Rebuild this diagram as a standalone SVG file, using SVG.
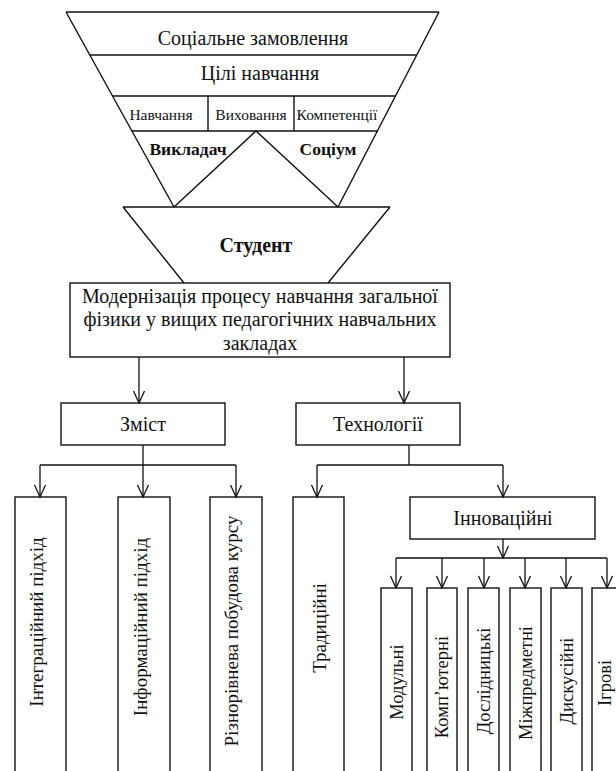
<svg xmlns="http://www.w3.org/2000/svg" width="616" height="771" viewBox="0 0 616 771">
<defs>
<marker id="arr" markerUnits="userSpaceOnUse" markerWidth="20" markerHeight="20" refX="0" refY="0" orient="auto" overflow="visible">
<path d="M-12,-5.5 L0,0 L-12,5.5" fill="none" stroke="#111" stroke-width="1.3"/>
</marker>
</defs>
<style>
text{font-family:"Liberation Serif","Times New Roman",serif;fill:#111;text-anchor:middle}
.t20{font-size:20px}
.v19{font-size:19px}
.v18{font-size:18.5px}
.t15{font-size:15.5px}
.b{font-weight:bold}
.ln{stroke:#111;stroke-width:1.4;fill:none}
.box{stroke:#111;stroke-width:1.4;fill:#fff}
.con{stroke:#111;stroke-width:1.3;fill:none}
.arw{stroke:#111;stroke-width:1.3;fill:none;marker-end:url(#arr)}
</style>
<rect width="616" height="771" fill="#fff"/>

<g id="funnel">
<path class="ln" d="M66,12 L174,207 M439,12 L338,207" stroke-width="1.5"/>
<path class="ln" d="M66,12 L439,12" stroke-width="2"/>
<path class="ln" d="M90,55 L417,55 M112,96 L396,96 M131,131 L378,131 M208,96 L208,131 M294,96 L294,131"/>
</g>
<g id="node-social"><text class="t20" x="253" y="45">Соціальне замовлення</text></g>
<g id="node-goals"><text class="t20" x="260" y="80">Цілі навчання</text></g>
<g id="node-learning"><text class="t15" x="161" y="120">Навчання</text></g>
<g id="node-upbringing"><text class="t15" x="251" y="120">Виховання</text></g>
<g id="node-competences"><text class="t15" x="337" y="120">Компетенції</text></g>
<g id="node-teacher-society">
<path class="ln" d="M174,207 L256,131 L338,207" stroke-width="1.5"/>
</g>
<g id="node-teacher"><text class="b" style="font-size:17.5px" x="188" y="155">Викладач</text></g>
<g id="node-society"><text class="b" style="font-size:17.5px" x="328" y="155">Соціум</text></g>
<g id="node-student">
<path class="ln" d="M123,207 L390,207" stroke-width="2"/>
<path class="ln" d="M123,207 L184,283 M390,207 L328,283" stroke-width="1.5"/>
<text class="t20 b" x="256" y="252">Студент</text>
</g>

<g id="node-modern">
<rect class="box" x="70" y="283" width="380" height="74"/>
<text class="t20" x="260" y="303">Модернізація процесу навчання загальної</text>
<text class="t20" x="260" y="326">фізики у вищих педагогічних навчальних</text>
<text class="t20" x="260" y="350">закладах</text>
</g>

<g id="node-content">
<rect class="box" x="61" y="403" width="164" height="42"/>
<text class="t20" x="143" y="431">Зміст</text>
</g>
<g id="node-tech">
<rect class="box" x="296" y="403" width="164" height="42"/>
<text class="t20" x="378" y="431">Технології</text>
</g>

<g id="node-integr">
<rect class="box" x="15" y="497" width="51" height="300"/>
<text class="v19" transform="translate(43,622) rotate(-90)">Інтеграційний підхід</text>
</g>
<g id="node-inform">
<rect class="box" x="118" y="497" width="52" height="300"/>
<text class="v19" transform="translate(147,627) rotate(-90)">Інформаційний підхід</text>
</g>
<g id="node-multilevel">
<rect class="box" x="210" y="497" width="52" height="300"/>
<text class="v19" transform="translate(238,631) rotate(-90)">Різнорівнева побудова курсу</text>
</g>
<g id="node-traditional">
<rect class="box" x="293" y="497" width="51" height="300"/>
<text class="v19" transform="translate(326,628) rotate(-90)">Традиційні</text>
</g>
<g id="node-innov">
<rect class="box" x="410" y="497" width="185" height="42"/>
<text class="t20" x="503" y="525">Інноваційні</text>
</g>

<g id="node-modular">
<rect class="box" x="381" y="588" width="31" height="220"/>
<text class="v18" transform="translate(403,682) rotate(-90)">Модульні</text>
</g>
<g id="node-computer">
<rect class="box" x="427" y="588" width="30" height="220"/>
<text class="v18" transform="translate(448,687) rotate(-90)">Комп’ютерні</text>
</g>
<g id="node-research">
<rect class="box" x="468" y="588" width="31" height="220"/>
<text class="v18" transform="translate(490,681) rotate(-90)">Дослідницькі</text>
</g>
<g id="node-interdisc">
<rect class="box" x="510" y="588" width="31" height="220"/>
<text class="v18" transform="translate(532,683) rotate(-90)">Міжпредметні</text>
</g>
<g id="node-discussion">
<rect class="box" x="551" y="588" width="31" height="220"/>
<text class="v18" transform="translate(573,681) rotate(-90)">Дискусійні</text>
</g>
<g id="node-games">
<rect class="box" x="592" y="588" width="31" height="220"/>
<text class="v18" transform="translate(611,683) rotate(-90)">Ігрові</text>
</g>

<g id="connectors">
<path class="arw" d="M139,357 L139,403"/>
<path class="arw" d="M404,357 L404,403"/>
<path class="con" d="M143,445 L143,465 M40,465 L236,465"/>
<path class="arw" d="M40,465 L40,497"/>
<path class="arw" d="M143,465 L143,497"/>
<path class="arw" d="M236,465 L236,497"/>
<path class="con" d="M409,445 L409,465 M317,465 L503,465"/>
<path class="arw" d="M317,465 L317,497"/>
<path class="arw" d="M503,465 L503,497"/>
<path class="arw" d="M503,539 L503,558"/>
<path class="con" d="M396,558 L607,558"/>
<path class="arw" d="M396,558 L396,588"/>
<path class="arw" d="M442,558 L442,588"/>
<path class="arw" d="M484,558 L484,588"/>
<path class="arw" d="M525,558 L525,588"/>
<path class="arw" d="M566,558 L566,588"/>
<path class="arw" d="M607,558 L607,588"/>
</g>
</svg>
